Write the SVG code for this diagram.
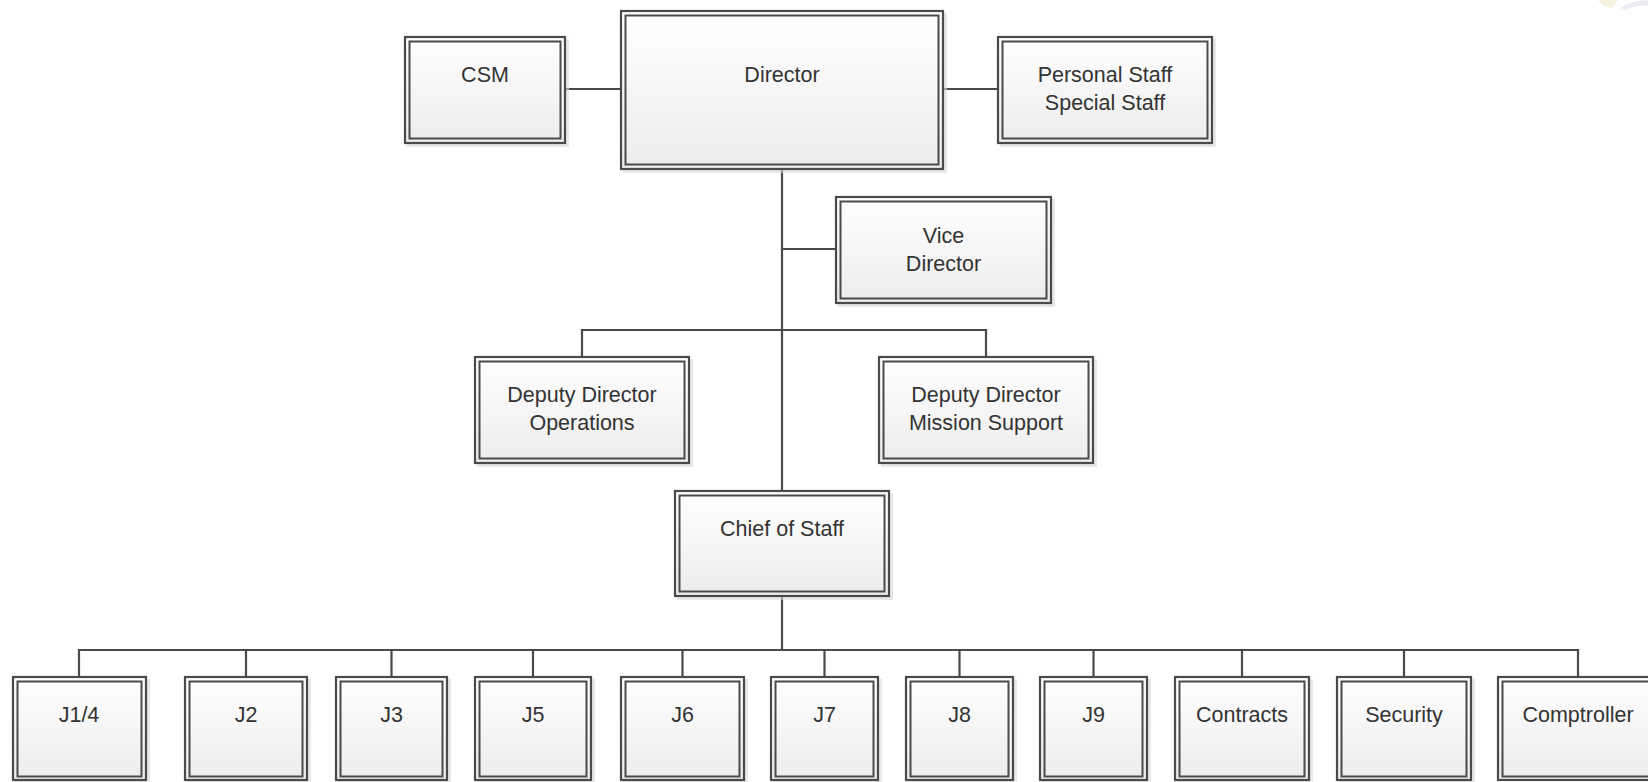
<svg xmlns="http://www.w3.org/2000/svg" width="1648" height="782" viewBox="0 0 1648 782">
<defs>
<linearGradient id="fill" x1="0" y1="0" x2="0" y2="1">
<stop offset="0" stop-color="#ffffff"/>
<stop offset="1" stop-color="#ececec"/>
</linearGradient>
</defs>
<style>
.sh{fill:#d8d8d8;opacity:0.6}
.o{fill:url(#fill);stroke:#4a4a4a;stroke-width:2.2}
.i{fill:none;stroke:#4a4a4a;stroke-width:2}
.t{font-family:"Liberation Sans",Arial,sans-serif;font-size:21.5px;fill:#333333;text-anchor:middle}
.c{fill:none;stroke:#4a4a4a;stroke-width:2.2}
</style>
<rect width="1648" height="782" fill="#ffffff"/>
<g id="watermark" opacity="0.35">
<path d="M1598 0 L1618 0 L1612 8 L1604 6 Z" fill="#e8dca0"/>
<path d="M1620 8 Q1634 0 1648 0 L1648 6 Q1636 4 1626 10 Z" fill="#c8c8d8"/>
</g>
<g id="connectors">
<path class="c" d="M566 89 H620"/>
<path class="c" d="M944 89 H997"/>
<path class="c" d="M782 170 V490"/>
<path class="c" d="M782 249 H835"/>
<path class="c" d="M582 356 V330 H986 V356"/>
<path class="c" d="M782 597 V650"/>
<path class="c" d="M79 676 V650 H1578 V676"/>
<path class="c" d="M246 650 V676 M391.5 650 V676 M533 650 V676 M682.5 650 V676 M824.5 650 V676 M959.5 650 V676 M1093.5 650 V676 M1242 650 V676 M1404 650 V676"/>
</g>
<g id="csm">
<rect class="sh" x="407" y="39" width="162" height="108"/>
<rect class="o" x="405" y="37" width="160" height="106"/>
<rect class="i" x="409.5" y="41.5" width="151" height="97"/>
<text class="t" x="485" y="82">CSM</text>
</g>
<g id="director">
<rect class="sh" x="623" y="13" width="324" height="160"/>
<rect class="o" x="621" y="11" width="322" height="158"/>
<rect class="i" x="625.5" y="15.5" width="313" height="149"/>
<text class="t" x="782" y="82">Director</text>
</g>
<g id="personal-staff">
<rect class="sh" x="1000" y="39" width="216" height="108"/>
<rect class="o" x="998" y="37" width="214" height="106"/>
<rect class="i" x="1002.5" y="41.5" width="205" height="97"/>
<text class="t" x="1105" y="82">Personal Staff</text>
<text class="t" x="1105" y="110">Special Staff</text>
</g>
<g id="vice-director">
<rect class="sh" x="838" y="199" width="217" height="108"/>
<rect class="o" x="836" y="197" width="215" height="106"/>
<rect class="i" x="840.5" y="201.5" width="206" height="97"/>
<text class="t" x="943.5" y="243">Vice</text>
<text class="t" x="943.5" y="271">Director</text>
</g>
<g id="deputy-ops">
<rect class="sh" x="477" y="359" width="216" height="108"/>
<rect class="o" x="475" y="357" width="214" height="106"/>
<rect class="i" x="479.5" y="361.5" width="205" height="97"/>
<text class="t" x="582" y="402">Deputy Director</text>
<text class="t" x="582" y="430">Operations</text>
</g>
<g id="deputy-ms">
<rect class="sh" x="881" y="359" width="216" height="108"/>
<rect class="o" x="879" y="357" width="214" height="106"/>
<rect class="i" x="883.5" y="361.5" width="205" height="97"/>
<text class="t" x="986" y="402">Deputy Director</text>
<text class="t" x="986" y="430">Mission Support</text>
</g>
<g id="chief-of-staff">
<rect class="sh" x="677" y="493" width="216" height="107"/>
<rect class="o" x="675" y="491" width="214" height="105"/>
<rect class="i" x="679.5" y="495.5" width="205" height="96"/>
<text class="t" x="782" y="536">Chief of Staff</text>
</g>
<g id="j1-4">
<rect class="sh" x="15" y="679" width="135" height="106"/>
<rect class="o" x="13" y="677" width="133" height="103"/>
<rect class="i" x="17.5" y="681.5" width="124" height="95"/>
<text class="t" x="79" y="722">J1/4</text>
</g>
<g id="j2">
<rect class="sh" x="187" y="679" width="124" height="106"/>
<rect class="o" x="185" y="677" width="122" height="103"/>
<rect class="i" x="189.5" y="681.5" width="113" height="95"/>
<text class="t" x="246" y="722">J2</text>
</g>
<g id="j3">
<rect class="sh" x="338" y="679" width="113" height="106"/>
<rect class="o" x="336" y="677" width="111" height="103"/>
<rect class="i" x="340.5" y="681.5" width="102" height="95"/>
<text class="t" x="391.5" y="722">J3</text>
</g>
<g id="j5">
<rect class="sh" x="477" y="679" width="118" height="106"/>
<rect class="o" x="475" y="677" width="116" height="103"/>
<rect class="i" x="479.5" y="681.5" width="107" height="95"/>
<text class="t" x="533" y="722">J5</text>
</g>
<g id="j6">
<rect class="sh" x="623" y="679" width="125" height="106"/>
<rect class="o" x="621" y="677" width="123" height="103"/>
<rect class="i" x="625.5" y="681.5" width="114" height="95"/>
<text class="t" x="682.5" y="722">J6</text>
</g>
<g id="j7">
<rect class="sh" x="773" y="679" width="109" height="106"/>
<rect class="o" x="771" y="677" width="107" height="103"/>
<rect class="i" x="775.5" y="681.5" width="98" height="95"/>
<text class="t" x="824.5" y="722">J7</text>
</g>
<g id="j8">
<rect class="sh" x="908" y="679" width="109" height="106"/>
<rect class="o" x="906" y="677" width="107" height="103"/>
<rect class="i" x="910.5" y="681.5" width="98" height="95"/>
<text class="t" x="959.5" y="722">J8</text>
</g>
<g id="j9">
<rect class="sh" x="1042" y="679" width="109" height="106"/>
<rect class="o" x="1040" y="677" width="107" height="103"/>
<rect class="i" x="1044.5" y="681.5" width="98" height="95"/>
<text class="t" x="1093.5" y="722">J9</text>
</g>
<g id="contracts">
<rect class="sh" x="1177" y="679" width="136" height="106"/>
<rect class="o" x="1175" y="677" width="134" height="103"/>
<rect class="i" x="1179.5" y="681.5" width="125" height="95"/>
<text class="t" x="1242" y="722">Contracts</text>
</g>
<g id="security">
<rect class="sh" x="1339" y="679" width="136" height="106"/>
<rect class="o" x="1337" y="677" width="134" height="103"/>
<rect class="i" x="1341.5" y="681.5" width="125" height="95"/>
<text class="t" x="1404" y="722">Security</text>
</g>
<g id="comptroller">
<rect class="o" x="1498" y="677" width="160" height="103"/>
<rect class="i" x="1502.5" y="681.5" width="151" height="95"/>
<text class="t" x="1578" y="722">Comptroller</text>
</g>
</svg>
